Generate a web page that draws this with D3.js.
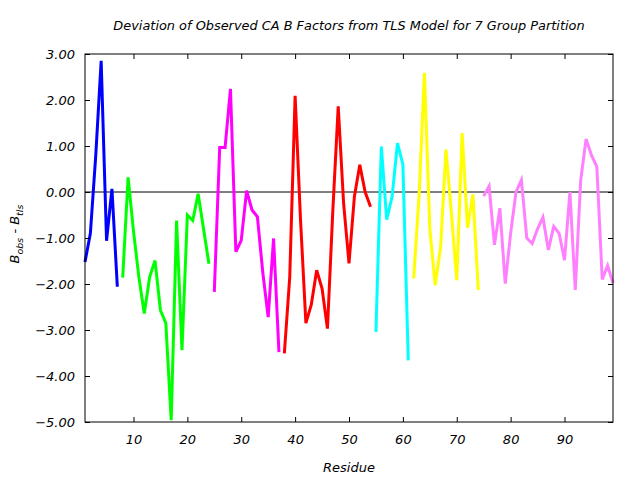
<!DOCTYPE html>
<html><head><meta charset="utf-8">
<script src="https://cdn.jsdelivr.net/npm/d3@7"></script>
<style>body{margin:0;background:#fff}text{font-family:"DejaVu Sans",sans-serif;font-style:italic}</style>
</head><body><svg id="c" width="640" height="480"></svg>
<script>
const title = "Deviation of Observed CA B Factors from TLS Model for 7 Group Partition";
const xTicks = [10,20,30,40,50,60,70,80,90];
const yTicks = [3,2,1,0,-1,-2,-3,-4,-5];
const groupStart = [1, 8, 25, 38, 55, 62, 75];
const groupColors = ["#0000ff","#00ff00","#ff00ff","#ff0000","#00ffff","#ffff00","#ff80ff"];
const blueVals = [-1.52, -0.9, 0.8, 2.85, -1.06, 0.07, -2.06];
const greenVals = [-1.86, 0.32, -0.85, -1.85, -2.64, -1.85, -1.49, -2.57, -2.85, -4.96, -0.62, -3.44, -0.5, -0.62, -0.04, -0.8, -1.56];
const magentaVals = [-2.17, 0.97, 0.97, 2.24, -1.3, -1.05, 0.03, -0.39, -0.54, -1.75, -2.72, -1.01, -3.48];
const redVals = [-3.51, -1.85, 2.09, -0.6, -2.85, -2.45, -1.7, -2.1, -2.97, -0.4, 1.86, -0.25, -1.55, -0.1, 0.59, 0.0, -0.32];
const cyanVals = [-3.04, 0.99, -0.6, -0.1, 1.06, 0.6, -3.66];
const yellowVals = [-1.88, -0.1, 2.59, -0.8, -2.03, -1.2, 0.92, -0.45, -1.92, 1.28, -0.78, -0.05, -2.13];
const violetVals = [-0.09, 0.13, -1.15, -0.35, -1.99, -0.9, 0.0, 0.26, -1.0, -1.12, -0.8, -0.55, -1.26, -0.75, -0.9, -1.48, 0.0, -2.13, 0.25, 1.15, 0.8, 0.55, -1.9, -1.6, -1.98];
const groups = [blueVals, greenVals, magentaVals, redVals, cyanVals, yellowVals, violetVals];

const L = 85, R = 613, T = 54, B = 422;
const svg = d3.select("#c");
const x = d3.scaleLinear().domain([1, 99]).range([L, R]);
const y = d3.scaleLinear().domain([-5, 3]).range([B, T]);

// zero line
svg.append("line").attr("x1", L).attr("x2", R).attr("y1", y(0)).attr("y2", y(0))
  .attr("stroke", "#000").attr("stroke-width", 1);

const line = d3.line().x(d => x(d[0])).y(d => y(d[1]));
groups.forEach((vals, gi) => {
  const pts = vals.map((v, i) => [groupStart[gi] + i, v]);
  svg.append("path").attr("d", line(pts)).attr("fill", "none")
    .attr("stroke", groupColors[gi]).attr("stroke-width", 3).attr("stroke-linejoin", "miter");
});

// axes (inward ticks on all sides)
const fmt = d3.format(".2f");
const axL = svg.append("g").attr("transform", `translate(${L},0)`)
  .call(d3.axisLeft(y).tickValues(yTicks).tickSize(-5).tickPadding(10).tickFormat(fmt));
const axR = svg.append("g").attr("transform", `translate(${R},0)`)
  .call(d3.axisRight(y).tickValues(yTicks).tickSize(-5).tickFormat(""));
const axB = svg.append("g").attr("transform", `translate(0,${B})`)
  .call(d3.axisBottom(x).tickValues(xTicks).tickSize(-5).tickPadding(13).tickFormat(d3.format("d")));
const axT = svg.append("g").attr("transform", `translate(0,${T})`)
  .call(d3.axisTop(x).tickValues(xTicks).tickSize(-5).tickFormat(""));
[axL, axR, axB, axT].forEach(a => {
  a.select(".domain").remove();
  a.selectAll("line").attr("stroke", "#000");
  a.selectAll("text").attr("fill", "#000").style("font-size", "13px")
    .style("font-family", '"DejaVu Sans",sans-serif').style("font-style", "italic");
});
svg.append("rect").attr("x", L).attr("y", T).attr("width", R - L).attr("height", B - T)
  .attr("fill", "none").attr("stroke", "#000").attr("stroke-width", 1);

svg.append("text").attr("x", (L + R) / 2).attr("y", 30).attr("text-anchor", "middle")
  .style("font-size", "12.9px").text(title);
svg.append("text").attr("x", (L + R) / 2).attr("y", 472).attr("text-anchor", "middle")
  .style("font-size", "13px").text("Residue");
const yl = svg.append("text").attr("transform", `translate(19,234) rotate(-90)`)
  .attr("text-anchor", "middle").style("font-size", "13px");
yl.append("tspan").text("B");
yl.append("tspan").attr("dy", 4).style("font-size", "9.5px").text("obs");
yl.append("tspan").attr("dy", -4).text(" - B");
yl.append("tspan").attr("dy", 4).style("font-size", "9.5px").text("tls");
</script></body></html>
